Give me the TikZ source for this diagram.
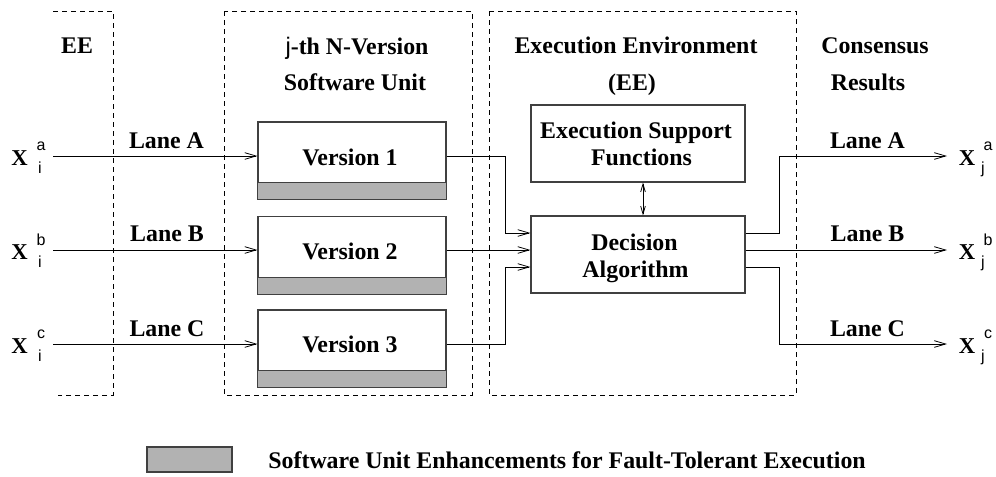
\documentclass[tikz,border=0pt]{standalone}
\usepackage{fontspec}
\setmainfont{Liberation Serif}
\newfontfamily\hv{Liberation Sans}
\usetikzlibrary{arrows.meta,calc}
\begin{document}
\begin{tikzpicture}[x=0.75pt,y=-0.75pt,
  line width=0.6pt,
  txt/.style={inner sep=0pt,anchor=base,font=\fontsize{17.9}{21}\selectfont\bfseries},
  bigx/.style={inner sep=0pt,anchor=base,font=\fontsize{17}{19}\selectfont\bfseries},
  idx/.style={inner sep=0pt,font=\fontsize{12}{14}\selectfont\hv},
  region/.style={dash pattern=on 3.75pt off 3pt,line width=0.5pt},
  verbox/.style={draw=black!75,line width=0.8pt,fill=white,minimum width=141pt,minimum height=57.75pt,inner sep=0pt},
  eebox/.style={draw=black!75,line width=0.8pt,minimum width=160.5pt,minimum height=57.75pt,inner sep=0pt},
  band/.style={fill=black!30,draw=black!75,line width=0.8pt},
  arr/.style={-{Straight Barb[length=8.5pt,width=5pt]}},
  darr/.style={{Straight Barb[length=6pt,width=3.5pt]}-{Straight Barb[length=6pt,width=3.5pt]}}
]
\useasboundingbox (0,0) rectangle (996,476);

% dashed regions
\draw[region] (53,11) -- (113,11) -- (113,395) -- (58,395);
\draw[region] (224,11) rectangle (472,395);
\draw[region] (489,11) rectangle (796,395);

% headings
\node[txt] (hEE) at (77,53.3) {EE};
\node[txt] (hN1) at (357,54) {{\hv\mdseries j}-th N-Version};
\node[txt] (hN2) at (355,90) {Software Unit};
\node[txt] (hE1) at (636,53.3) {Execution Environment};
\node[txt] (hE2) at (632,90) {(EE)};
\node[txt] (hC1) at (875,53.3) {Consensus};
\node[txt] (hC2) at (868,90) {Results};

% version boxes
\node[verbox] (v1) at (352,160.5) {};
\node[verbox] (v2) at (352,255) {};
\node[verbox] (v3) at (352,348.5) {};
\foreach \v in {v1,v2,v3}{
  \draw[band] (\v.south west) rectangle ([yshift=12.75pt]\v.south east);
}
\node[txt] (t1) at (350,165) {Version 1};
\node[txt] (t2) at (350,259) {Version 2};
\node[txt] (t3) at (350,352.7) {Version 3};

% EE boxes
\node[eebox] (esf) at (638,143.5) {};
\node[eebox] (dec) at (638,254.5) {};
\node[txt] (esf1) at (636,138.3) {Execution Support};
\node[txt] (esf2) at (641.5,165) {Functions};
\node[txt] (dec1) at (634.5,250) {Decision};
\node[txt] (dec2) at (635.5,277.3) {Algorithm};
\draw[darr] ([xshift=3.75pt]esf.south) -- ([xshift=3.75pt]dec.north);

% inputs
\coordinate (iA) at (53,156);
\coordinate (iB) at (53,250);
\coordinate (iC) at (53,344);
\draw[arr] (iA) -- (iA -| v1.west);
\draw[arr] (iB) -- (iB -| v2.west);
\draw[arr] (iC) -- (iC -| v3.west);
\node[txt] (lA) at (166.5,148) {Lane A};
\node[txt] (lB) at (167,241.7) {Lane B};
\node[txt] (lC) at (167,336.7) {Lane C};

\node[bigx] (xa) at (19.5,165.5) {X};
\node[idx] (xas) at (41,146) {a};
\node[idx] (xai) at (40,168) {i};
\node[bigx] (xb) at (19.5,259.5) {X};
\node[idx] (xbs) at (41,240) {b};
\node[idx] (xbi) at (40,262) {i};
\node[bigx] (xc) at (19.5,353.5) {X};
\node[idx] (xcs) at (41,334) {c};
\node[idx] (xci) at (40,356) {i};

% versions to decision
\coordinate (j1) at (505,233);
\coordinate (j3) at (505,267);
\draw[arr] (iA -| v1.east) -| (j1) -- (j1 -| dec.west);
\draw[arr] (iB -| v2.east) -- (iB -| dec.west);
\draw[arr] (iC -| v3.east) -| (j3) -- (j3 -| dec.west);

% outputs
\coordinate (k1) at (779,233);
\coordinate (k3) at (779,267);
\coordinate (oA) at (947,156);
\coordinate (oB) at (947,250);
\coordinate (oC) at (947,344);
\draw[arr] (k1 -| dec.east) -- (k1) |- (oA);
\draw[arr] (oB -| dec.east) -- (oB);
\draw[arr] (k3 -| dec.east) -- (k3) |- (oC);
\node[txt] (rA) at (867.5,148) {Lane A};
\node[txt] (rB) at (867.5,241.7) {Lane B};
\node[txt] (rC) at (867.5,336.7) {Lane C};

\node[bigx] (ya) at (967,165.5) {X};
\node[idx] (yas) at (988,146) {a};
\node[idx] (yaj) at (983,169) {j};
\node[bigx] (yb) at (967,259.5) {X};
\node[idx] (ybs) at (988,240) {b};
\node[idx] (ybj) at (983,263) {j};
\node[bigx] (yc) at (967,353.5) {X};
\node[idx] (ycs) at (988,334) {c};
\node[idx] (ycj) at (983,357) {j};

% legend
\node[band,minimum width=63.75pt,minimum height=18.75pt,inner sep=0pt] (leg) at (189.5,459.5) {};
\node[txt,anchor=base west] (legt) at (268,468.3) {Software Unit Enhancements for Fault-Tolerant Execution};
\end{tikzpicture}
\end{document}
